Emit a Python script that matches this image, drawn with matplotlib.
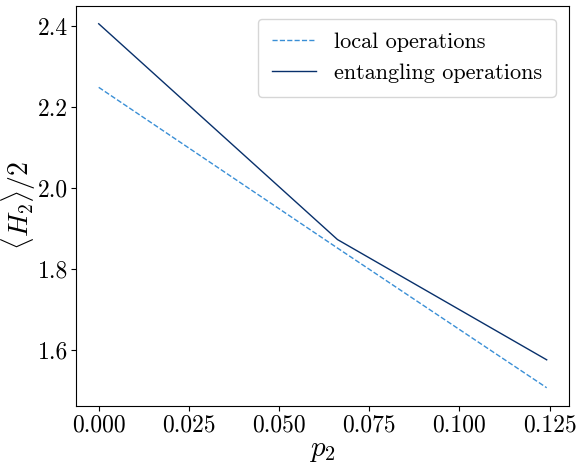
import matplotlib
matplotlib.use("Agg")
import matplotlib.pyplot as plt

plt.rcParams['font.family'] = 'serif'
plt.rcParams['font.serif'] = ['cmr10']
plt.rcParams['mathtext.fontset'] = 'cm'
plt.rcParams['axes.formatter.use_mathtext'] = True

# data
p2 = [0.0, 0.0662, 0.1242]
local_ops = [2.249, 1.852, 1.507]
entangling_ops = [2.406, 1.873, 1.576]

fig, ax = plt.subplots(figsize=(5.76, 4.65), dpi=100)
ax.plot(p2, local_ops, '--', color='#3a8fd6', linewidth=1, label='local operations')
ax.plot(p2, entangling_ops, '-', color='#08306b', linewidth=1, label='entangling operations')

ax.set_xlabel(r'$p_2$', fontsize=21, labelpad=1)
ax.set_ylabel(r'$\langle H_2\rangle/2$', fontsize=20)
ax.yaxis.set_label_coords(-0.078, 0.5)
ax.set_xticks([0.0, 0.025, 0.05, 0.075, 0.1, 0.125])
ax.set_xticklabels(['0.000', '0.025', '0.050', '0.075', '0.100', '0.125'])
ax.set_yticks([1.6, 1.8, 2.0, 2.2, 2.4])
ax.set_yticklabels(['1.6', '1.8', '2.0', '2.2', '2.4'])
ax.tick_params(labelsize=17, pad=2.5)
ax.legend(fontsize=16, loc='upper right', borderpad=0.62, borderaxespad=0.6)

plt.subplots_adjust(left=0.1325, right=0.988, top=0.988, bottom=0.127)
plt.savefig('out.png', dpi=100)
